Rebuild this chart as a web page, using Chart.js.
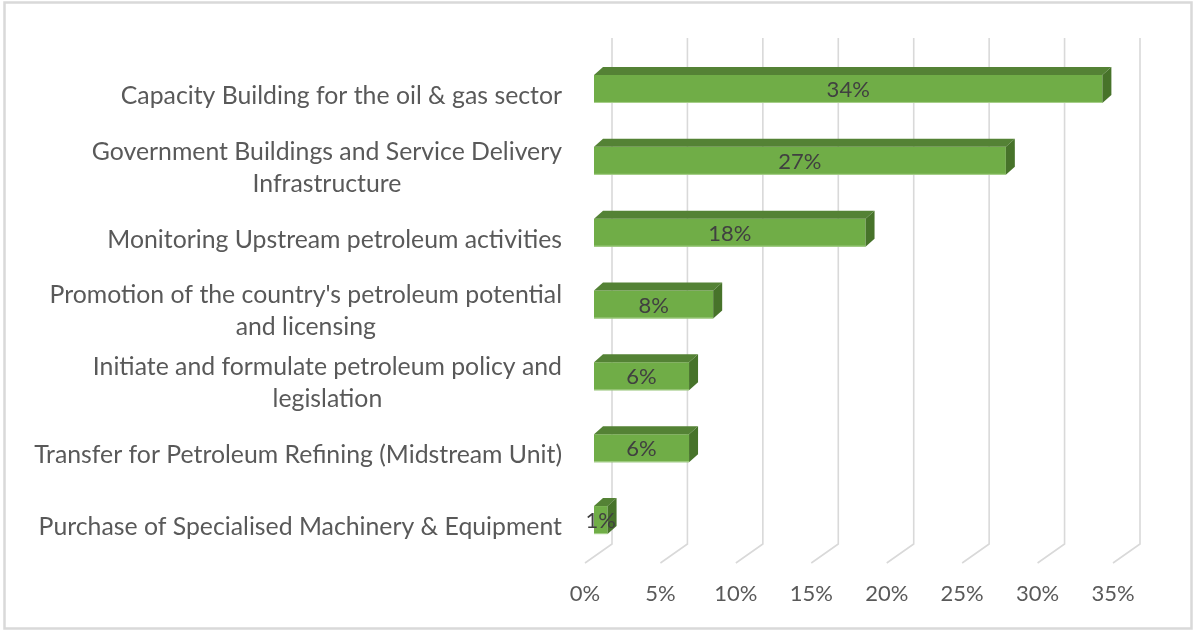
<!DOCTYPE html>
<html>
<head>
<meta charset="utf-8">
<script src="https://cdn.jsdelivr.net/npm/chart.js@4"></script>
<style>
  html, body { margin: 0; padding: 0; background: #ffffff; }
  canvas { display: block; }
</style>
</head>
<body>
<canvas id="chartBudget" width="1196" height="633"></canvas>
<script>
// --- data ---
const categories = [
  ["Capacity Building for the oil & gas sector"],
  ["Government Buildings and Service Delivery", "Infrastructure"],
  ["Monitoring Upstream petroleum activities"],
  ["Promotion of the country's petroleum potential", "and licensing"],
  ["Initiate and formulate petroleum policy and", "legislation"],
  ["Transfer for Petroleum Refining (Midstream Unit)"],
  ["Purchase of Specialised Machinery & Equipment"],
];
const shares = [33.7, 27.3, 18.0, 7.9, 6.3, 6.3, 0.9];
const tickValues = [0, 5, 10, 15, 20, 25, 30, 35];

const FONT = "Lato, 'Open Sans', sans-serif";
const DEPTH_X = 9;   // bar depth
const DEPTH_Y = 8;

// outer frame
const framePlugin = {
  id: "frame",
  beforeDraw(chart) {
    const ctx = chart.ctx;
    ctx.save();
    ctx.strokeStyle = "#d9d9d9";
    ctx.lineWidth = 2.5;
    ctx.strokeRect(4.5, 2.5, 1187, 626);
    ctx.restore();
  },
};

// back wall grid lines + floor diagonals
const wallGridPlugin = {
  id: "wallGrid",
  beforeDatasetsDraw(chart) {
    const { ctx, chartArea } = chart;
    const xs = chart.scales.x;
    ctx.save();
    ctx.strokeStyle = "#d9d9d9";
    ctx.lineWidth = 1.6;
    tickValues.forEach((v) => {
      const px = xs.getPixelForValue(v);
      ctx.beginPath();
      ctx.moveTo(px + 18, 38);
      ctx.lineTo(px + 18, chartArea.bottom - 12);
      ctx.lineTo(px - 9, chartArea.bottom + 7);
      ctx.stroke();
    });
    ctx.restore();
  },
};

// top and side faces of the bars, then value labels
const bar3dPlugin = {
  id: "bar3d",
  afterDatasetsDraw(chart) {
    const ctx = chart.ctx;
    const meta = chart.getDatasetMeta(0);
    ctx.save();
    meta.data.forEach((bar, i) => {
      const top = bar.y - bar.height / 2;
      const bottom = bar.y + bar.height / 2;
      const left = bar.base;
      const right = bar.x;
      // top face
      ctx.fillStyle = "#548235";
      ctx.beginPath();
      ctx.moveTo(left, top);
      ctx.lineTo(left + DEPTH_X, top - DEPTH_Y);
      ctx.lineTo(right + DEPTH_X, top - DEPTH_Y);
      ctx.lineTo(right, top);
      ctx.closePath();
      ctx.fill();
      // side face
      ctx.fillStyle = "#47732a";
      ctx.beginPath();
      ctx.moveTo(right, top);
      ctx.lineTo(right + DEPTH_X, top - DEPTH_Y);
      ctx.lineTo(right + DEPTH_X, bottom - DEPTH_Y);
      ctx.lineTo(right, bottom);
      ctx.closePath();
      ctx.fill();
      // light bottom edge of the front face
      ctx.strokeStyle = "#a9d18e";
      ctx.lineWidth = 1;
      ctx.beginPath();
      ctx.moveTo(left, bottom - 0.5);
      ctx.lineTo(right, bottom - 0.5);
      ctx.stroke();

      // value label
      ctx.fillStyle = "#404040";
      ctx.font = "22px " + FONT;
      ctx.textAlign = "center";
      ctx.textBaseline = "middle";
      ctx.fillText(Math.round(shares[i]) + "%", (left + right) / 2, bar.y + 1);
    });
    ctx.restore();
  },
};

// category labels: block right-aligned, lines centred in the block
const catLabelPlugin = {
  id: "catLabels",
  afterDraw(chart) {
    const ctx = chart.ctx;
    const ys = chart.scales.y;
    ctx.save();
    ctx.font = "24.8px " + FONT;
    ctx.fillStyle = "#595959";
    ctx.textAlign = "center";
    ctx.textBaseline = "middle";
    categories.forEach((lines, i) => {
      const w = Math.max(...lines.map((l) => ctx.measureText(l).width));
      const cx = 562 - w / 2;
      const cy = ys.getPixelForValue(i) + 7;
      lines.forEach((line, j) => {
        ctx.fillText(line, cx, cy + (j - (lines.length - 1) / 2) * 32);
      });
    });
    ctx.restore();
  },
};

new Chart(document.getElementById("chartBudget"), {
  type: "bar",
  data: {
    labels: categories,
    datasets: [
      {
        data: shares,
        backgroundColor: "#70ad47",
        borderWidth: 0,
        barPercentage: 0.39,
        categoryPercentage: 1,
      },
    ],
  },
  options: {
    indexAxis: "y",
    responsive: false,
    animation: false,
    layout: { padding: { left: 594, right: 74, top: 53, bottom: 26 } },
    plugins: {
      legend: { display: false },
      tooltip: { enabled: false },
    },
    scales: {
      x: {
        min: 0,
        max: 35,
        grid: { display: false, drawTicks: false },
        border: { display: false },
        afterFit: (scale) => { scale.height = 51; },
        ticks: {
          stepSize: 5,
          padding: 25,
          labelOffset: -9,
          color: "#595959",
          font: { family: FONT, size: 22 },
          callback: (v) => v + "%",
        },
      },
      y: { display: false },
    },
  },
  plugins: [framePlugin, wallGridPlugin, bar3dPlugin, catLabelPlugin],
});
</script>
</body>
</html>
